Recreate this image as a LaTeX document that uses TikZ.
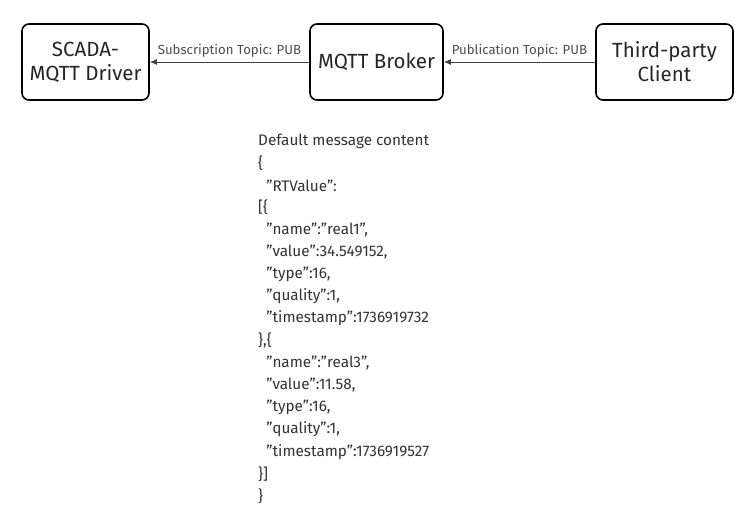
\documentclass[tikz,border=0pt]{standalone}
\usepackage{fontspec}
\setmainfont{Fira Sans}[Ligatures=ResetAll]
\usetikzlibrary{arrows.meta}
\newcommand\qq{\symbol{34}}
\begin{document}
\begin{tikzpicture}[x=1pt,y=-1pt,
 box/.style={draw,line width=1.6pt,rounded corners=7pt,align=center,font=\fontsize{20.5}{24}\selectfont\color{black!85}},
 lab/.style={font=\fontsize{13.2}{15}\selectfont,text=black!70,above},
 con/.style={-{Latex[length=7pt,width=6pt]},line width=1pt,black!75},
 body/.style={anchor=west,font=\fontsize{15.3}{17}\selectfont,text=black!80,inner sep=0pt}]
\useasboundingbox (0,0) rectangle (755,515);
\node[box,minimum width=127pt,minimum height=76pt] (scada) at (85.5,62) {SCADA-\\MQTT Driver};
\node[box,minimum width=133pt,minimum height=76pt] (broker) at (376.5,62) {MQTT Broker};
\node[box,minimum width=137pt,minimum height=76pt] (client) at (664.5,62) {Third-party\\Client};
\draw[con] (broker) -- node[lab,yshift=1pt]{Subscription Topic: PUB} (scada);
\draw[con] (client) -- node[lab,yshift=1pt]{Publication Topic: PUB} (broker);
\foreach \t [count=\i from 0] in {{Default message content},{\{},{\ \ \qq RTValue\qq:},{[\{},
 {\ \ \qq name\qq:\qq real1\qq,},{\ \ \qq value\qq:34.549152,},{\ \ \qq type\qq:16,},{\ \ \qq quality\qq:1,},{\ \ \qq timestamp\qq:1736919732},
 {\},\{},{\ \ \qq name\qq:\qq real3\qq,},{\ \ \qq value\qq:11.58,},{\ \ \qq type\qq:16,},{\ \ \qq quality\qq:1,},{\ \ \qq timestamp\qq:1736919527},{\}]},{\}}}
 \node[body] (l\i) at (258,141+22.2*\i) {\t};
\end{tikzpicture}
\end{document}
